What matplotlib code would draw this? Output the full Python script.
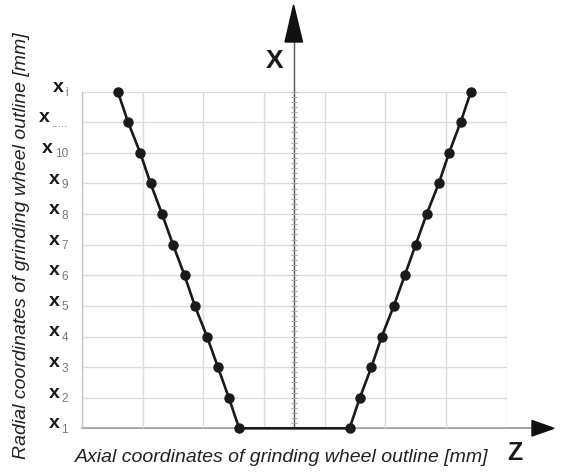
import matplotlib
matplotlib.use('Agg')
import matplotlib.pyplot as plt
import numpy as np
from matplotlib.patches import Polygon
from matplotlib.lines import Line2D

plt.rcParams['font.family'] = ['Liberation Sans', 'DejaVu Sans']

# level labels (subscripts of x), from bottom (x1) to top (xi)
levels = ['1', '2', '3', '4', '5', '6', '7', '8', '9', '10', '.....', 'i']
level_pos = [0, 1, 2, 3, 4, 5, 6, 7, 8, 9, 10, 11]
# axial coordinates (grid units) of the left and right flank points
z_left = [2.59, 2.42, 2.24, 2.06, 1.86, 1.69, 1.50, 1.32, 1.13, 0.96, 0.76, 0.59]
z_right = [4.41, 4.58, 4.77, 4.94, 5.14, 5.32, 5.50, 5.68, 5.88, 6.05, 6.24, 6.41]

W, H = 570, 473
fig = plt.figure(figsize=(W / 100, H / 100), dpi=100)
fig.patch.set_facecolor('white')
L, R, T, B = 82, 506.7, 91.7, 428.3


def fx(px):
    return px / W


def fy(py):
    return 1 - py / H


ax = fig.add_axes([fx(L), fy(B), (R - L) / W, (B - T) / H])
ax.patch.set_alpha(0)
ax.set_xlim(0, 7)
ax.set_ylim(0, 11)
ax.set_xticks(range(8))
ax.set_yticks(level_pos)
ax.grid(True, color='#dcdcdc', lw=1.0)
ax.set_axisbelow(True)
ax.tick_params(length=0, labelleft=False, labelbottom=False)
for s in ['top', 'right', 'bottom']:
    ax.spines[s].set_visible(False)
ax.spines['left'].set_color('#c4c4c4')
ax.spines['left'].set_linewidth(1.0)

# minor ticks along the central X axis
cx = 3.5
tick_y = np.arange(0, 11 + 1e-9, 1 / 6)
ax.hlines(tick_y, cx - 0.05, cx + 0.05, colors='#a8a8a8', lw=0.8, zorder=2)

# profile polyline
zs = list(reversed(z_left)) + z_right
ys = list(reversed(level_pos)) + level_pos
ax.plot(zs, ys, color='#1a1a1a', lw=1.9, marker='o', ms=6.5,
        markerfacecolor='#1a1a1a', markeredgecolor='#1a1a1a', clip_on=False, zorder=5)

# Z axis line + arrow
fig.add_artist(Line2D([fx(L), fx(533)], [fy(B), fy(B)], color='#8a8a8a', lw=1.1, zorder=-1))
fig.add_artist(Polygon([[fx(532), fy(420.5)], [fx(532), fy(436)], [fx(554), fy(B)]],
                       closed=True, facecolor='#111111', edgecolor='#111111', transform=fig.transFigure))
# X axis line + arrow
xc = 293.6
fig.add_artist(Line2D([fx(xc), fx(xc)], [fy(B), fy(40)], color='#555555', lw=1.0, zorder=-1))
fig.add_artist(Polygon([[fx(285), fy(42)], [fx(302.5), fy(42)], [fx(xc), fy(5)]],
                       closed=True, facecolor='#111111', edgecolor='#111111', transform=fig.transFigure))

fig.text(fx(275), fy(61), 'X', ha='center', va='center', fontsize=19, fontweight='bold', color='#1a1a1a')
fig.text(fx(515), fy(453), 'Z', ha='center', va='center', fontsize=18, fontweight='bold', color='#1a1a1a')

fig.text(fx(282), fy(457), 'Axial coordinates of grinding wheel outline [mm]', ha='center', va='center',
         fontsize=14, style='italic', color='#222222')
fig.text(fx(22), fy(246), 'Radial coordinates of grinding wheel outline [mm]', ha='center', va='center',
         rotation=90, fontsize=14, style='italic', color='#222222')

# y tick labels: bold x with grey subscript
renderer = fig.canvas.get_renderer()
for pos, sub in zip(level_pos, levels):
    py = B - pos * (B - T) / 11
    t_sub = fig.text(fx(68), fy(py + 4.5), sub, ha='right', va='baseline', fontsize=8.5, color='#777777')
    bb = t_sub.get_window_extent(renderer)
    xr = bb.x0 - 2
    fig.text(xr / W, fy(py), 'x', ha='right', va='baseline', fontsize=14, fontweight='bold', color='#1a1a1a')

fig.savefig('out.png', dpi=100)
